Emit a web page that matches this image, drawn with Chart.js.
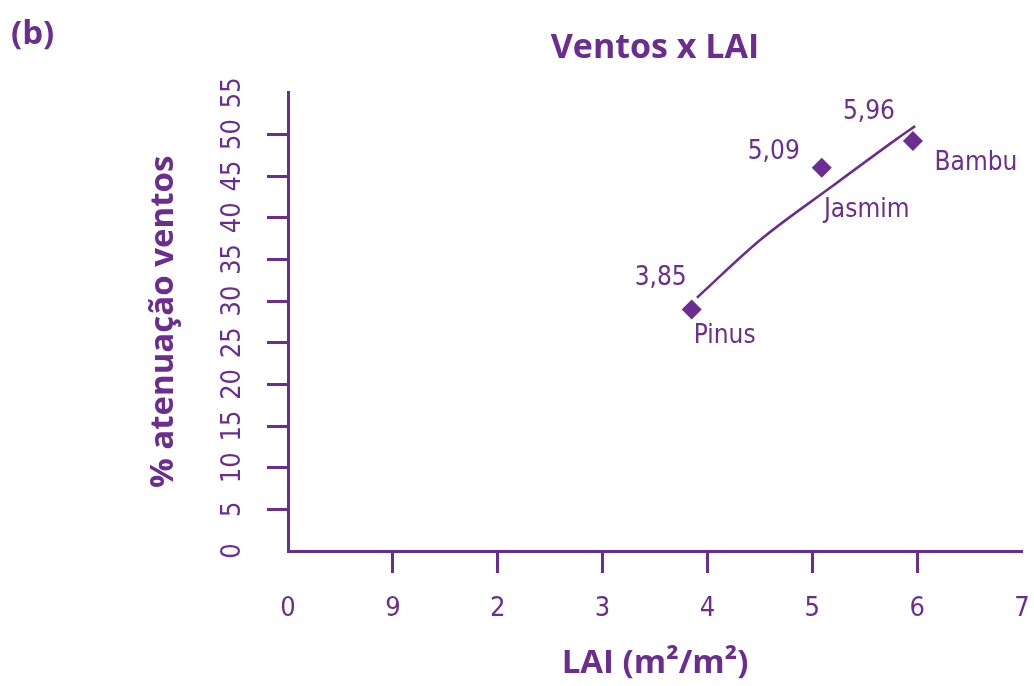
<!DOCTYPE html>
<html>
<head>
<meta charset="utf-8">
<script src="https://cdn.jsdelivr.net/npm/chart.js@4/dist/chart.umd.min.js"></script>
<style>
  body { margin: 0; background: #fff; }
  #wrap { width: 1034px; height: 686px; }
</style>
</head>
<body>
<div id="wrap"><canvas id="chartVentos" width="1034" height="686"></canvas></div>
<script>
// data
var species = ['Pinus', 'Jasmim', 'Bambu'];
var laiValues = [3.85, 5.09, 5.96];
var laiLabels = ['3,85', '5,09', '5,96'];
var attenuation = [29, 46, 49.2];

// fitted curve
var trendLai = [3.9, 4.5, 5.17, 5.81, 5.98];
var trendAttenuation = [30.4, 37.3, 43.6, 49.5, 51.0];

// x tick labels as printed (the "9" is in the original)
var xTickLabels = ['0', '9', '2', '3', '4', '5', '6', '7'];

var purple = '#6b2d90';
var tickFont = "'Liberation Sans Narrow', 'DejaVu Sans Condensed', 'Roboto', sans-serif";
var boldFont = "'Open Sans', 'Noto Sans', sans-serif";

// where each pair of labels sits relative to its diamond
var valueOffsets = [[-31, -31], [-48, -16], [-44, -29]];
var nameOffsets = [[33, 27], [45, 42], [63, 22]];

var points = laiValues.map(function (x, i) {
    return { x: x, y: attenuation[i] };
});
var trend = trendLai.map(function (x, i) {
    return { x: x, y: trendAttenuation[i] };
});

var pointLabels = {
    id: 'pointLabels',
    afterDatasetsDraw: function (chart) {
        var ctx = chart.ctx;
        var meta = chart.getDatasetMeta(1);
        ctx.save();
        ctx.fillStyle = purple;
        ctx.font = '26px ' + tickFont;
        ctx.textAlign = 'center';
        ctx.textBaseline = 'middle';
        meta.data.forEach(function (pt, i) {
            ctx.fillText(laiLabels[i], pt.x + valueOffsets[i][0], pt.y + valueOffsets[i][1]);
            ctx.fillText(species[i], pt.x + nameOffsets[i][0], pt.y + nameOffsets[i][1]);
        });
        // panel letter
        ctx.font = 'bold 33px ' + boldFont;
        ctx.textAlign = 'left';
        ctx.fillText('(b)', 11, 35);
        ctx.restore();
    }
};

var hideEnds = function (c) {
    return (c.index === 0 || c.index === c.scale.ticks.length - 1) ? 'rgba(0,0,0,0)' : purple;
};

var ctx = document.getElementById('chartVentos').getContext('2d');
var myChart = new Chart(ctx, {
    type: 'scatter',
    data: {
        datasets: [{
            label: 'Tendência',
            data: trend,
            showLine: true,
            borderColor: purple,
            borderWidth: 2.5,
            pointRadius: 0,
            tension: 0.4,
            cubicInterpolationMode: 'monotone'
        }, {
            label: 'LAI',
            data: points,
            pointStyle: 'rectRot',
            pointRadius: 10,
            backgroundColor: purple,
            borderColor: purple,
            borderWidth: 0
        }]
    },
    options: {
        responsive: false,
        animation: false,
        layout: { padding: { left: 0, right: 12, top: 0, bottom: 0 } },
        plugins: {
            legend: { display: false },
            tooltip: { enabled: false },
            title: {
                display: true,
                text: 'Ventos x LAI',
                color: purple,
                fullSize: false,
                font: { family: boldFont, size: 34, weight: 'bold' },
                padding: { top: 28, bottom: 24 }
            }
        },
        scales: {
            x: {
                type: 'linear',
                min: 0,
                max: 7,
                afterFit: function (s) {
                    s.height = 135;
                    s.paddingLeft = 0;
                    s.paddingRight = 0;
                },
                ticks: {
                    stepSize: 1,
                    color: purple,
                    font: { family: tickFont, size: 27 },
                    padding: 20,
                    maxRotation: 0,
                    callback: function (v, i) { return xTickLabels[i]; }
                },
                grid: {
                    drawOnChartArea: false,
                    drawTicks: true,
                    tickLength: 22,
                    tickWidth: 3,
                    tickColor: hideEnds
                },
                border: { color: purple, width: 3 },
                title: {
                    display: true,
                    text: 'LAI (m²/m²)',
                    color: purple,
                    font: { family: boldFont, size: 33, weight: 'bold' },
                    padding: { top: 0, bottom: 3 }
                }
            },
            y: {
                min: 0,
                max: 55,
                afterFit: function (s) { s.width = 288; },
                ticks: {
                    stepSize: 5,
                    color: purple,
                    font: { family: tickFont, size: 27 },
                    minRotation: 90,
                    maxRotation: 90,
                    crossAlign: 'center',
                    padding: 19
                },
                grid: {
                    drawOnChartArea: false,
                    drawTicks: true,
                    tickLength: 21,
                    tickWidth: 3,
                    tickColor: hideEnds
                },
                border: { color: purple, width: 3 },
                title: {
                    display: true,
                    text: '% atenuação ventos',
                    color: purple,
                    font: { family: boldFont, size: 33, weight: 'bold' },
                    padding: { top: 144, bottom: 0 }
                }
            }
        }
    },
    plugins: [pointLabels]
});
</script>
</body>
</html>
